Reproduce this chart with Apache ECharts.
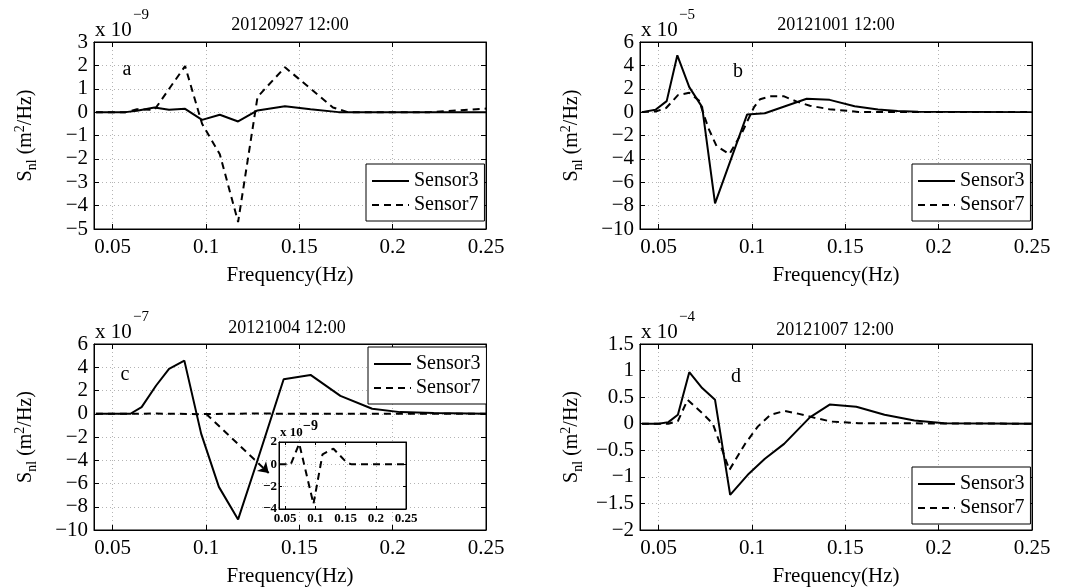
<!DOCTYPE html>
<html>
<head>
<meta charset="utf-8">
<script src="https://cdn.jsdelivr.net/npm/echarts@6/dist/echarts.min.js"></script>
<style>
html, body { margin: 0; padding: 0; background: #fff; }
#main { width: 1089px; height: 588px; }
</style>
</head>
<body>
<div id="main"></div>
<script>
var FONT = "'Liberation Serif', 'Times New Roman', serif";

var xTicks = [0.05, 0.1, 0.15, 0.2, 0.25];
var seriesNames = ['Sensor3', 'Sensor7'];
var panelTitles = ['20120927 12:00', '20121001 12:00', '20121004 12:00', '20121007 12:00'];
var panelLetters = ['a', 'b', 'c', 'd'];
var panelExponents = ['\u22129', '\u22125', '\u22127', '\u22124'];

// a: 20120927, units 1e-9
var freqA3 = [0.041, 0.057, 0.063, 0.0724, 0.0802, 0.0888, 0.0979, 0.1074, 0.1172, 0.1276, 0.1423, 0.156, 0.171, 0.25];
var snlA3  = [0, 0, 0.06, 0.2, 0.1, 0.14, -0.33, -0.11, -0.4, 0.07, 0.25, 0.12, 0, 0];
var freqA7 = [0.041, 0.057, 0.063, 0.0724, 0.0888, 0.0979, 0.1074, 0.1172, 0.1276, 0.1423, 0.168, 0.176, 0.22, 0.25];
var snlA7  = [0, 0, 0.12, 0.1, 1.97, -0.5, -1.8, -4.7, 0.65, 1.92, 0.2, 0, 0, 0.15];

// b: 20121001, units 1e-5
var freqB3 = [0.041, 0.0483, 0.0543, 0.060, 0.0664, 0.0733, 0.0802, 0.0974, 0.1069, 0.1293, 0.1416, 0.155, 0.1675, 0.178, 0.189, 0.25];
var snlB3  = [0, 0.2, 0.94, 4.86, 2.14, 0.43, -7.8, -0.2, -0.1, 1.14, 1.05, 0.51, 0.23, 0.1, 0.03, 0];
var freqB7 = [0.041, 0.0483, 0.054, 0.0603, 0.0664, 0.0716, 0.0767, 0.081, 0.0879, 0.0948, 0.101, 0.1043, 0.11, 0.1172, 0.124, 0.131, 0.1414, 0.157, 0.25];
var snlB7  = [0, 0.05, 0.35, 1.45, 1.65, 1.0, -1.4, -2.9, -3.6, -1.7, 0.4, 1.1, 1.35, 1.35, 0.9, 0.55, 0.25, 0.02, 0];

// c: 20121004, Sensor3 in 1e-7, Sensor7 in 1e-9
var freqC3 = [0.041, 0.0595, 0.0655, 0.0733, 0.0802, 0.0884, 0.0974, 0.1069, 0.1172, 0.127, 0.1416, 0.156, 0.172, 0.189, 0.204, 0.222, 0.25];
var snlC3  = [0, 0, 0.57, 2.43, 3.86, 4.57, -1.71, -6.29, -9.09, -4.3, 2.97, 3.34, 1.54, 0.43, 0.14, 0.06, 0];
var freqC7 = [0.041, 0.0594, 0.0735, 0.097, 0.112, 0.13, 0.152, 0.16, 0.25];
var snlC7  = [0, 0, 1.85, -3.55, 0.9, 1.4, 0.15, 0, 0];

// d: 20121007, units 1e-4
var freqD3 = [0.041, 0.05, 0.0552, 0.0603, 0.0664, 0.0733, 0.0802, 0.0883, 0.0983, 0.1069, 0.1172, 0.131, 0.1416, 0.1559, 0.171, 0.187, 0.203, 0.25];
var snlD3  = [0, 0, 0.03, 0.17, 0.97, 0.67, 0.45, -1.34, -0.94, -0.66, -0.38, 0.12, 0.36, 0.32, 0.17, 0.06, 0.01, 0];
var freqD7 = [0.041, 0.0552, 0.0603, 0.0655, 0.0733, 0.079, 0.0879, 0.0961, 0.1032, 0.110, 0.1175, 0.1246, 0.1336, 0.1425, 0.157, 0.25];
var snlD7  = [0, 0, 0.05, 0.45, 0.2, 0.0, -0.87, -0.39, -0.05, 0.17, 0.24, 0.19, 0.11, 0.04, 0.01, 0];

// arrow in panel c pointing at the inset (data coords of panel c)
var arrowFrom = [0.1, 0];
var arrowTo = [0.1336, -5.1];

var grids = [
    {left: 94, top: 42, width: 392, height: 187},
    {left: 640, top: 42, width: 392, height: 187},
    {left: 94, top: 344, width: 392, height: 187},
    {left: 640, top: 344, width: 392, height: 187},
    {left: 279, top: 442, width: 127, height: 67}
];
var yRanges = [[-5, 3, 1], [-10, 6, 2], [-10, 6, 2], [-2, 1.5, 0.5], [-4, 2, 2]];

function pairs(fx, fy, scale) {
    return fx.map(function (x, i) { return [x, fy[i] * scale]; });
}

function minus(v) {
    return String(+(+v).toFixed(4)).replace('-', '\u2212');
}

var dotted = {show: true, lineStyle: {color: '#b4b4b4', width: 1, type: [1, 3]}};

var xAxis = [], yAxis = [];
grids.forEach(function (g, i) {
    var inset = i === 4;
    var fs = inset ? 13 : 21;
    var z = inset ? 10 : 0;
    var label = {
        show: true, customValues: xTicks, color: '#000', fontFamily: FONT, fontSize: fs,
        fontWeight: inset ? 'bold' : 'normal', margin: inset ? 3 : 8,
        formatter: function (v) { return minus(v); }
    };
    var tick = {show: true, inside: true, length: inset ? 3 : 5, customValues: xTicks, lineStyle: {color: '#000'}};
    xAxis.push({
        type: 'value', gridIndex: i, min: 0.04, max: 0.25, position: 'bottom', z: z,
        axisLine: {show: true, onZero: false, lineStyle: {color: '#000', width: 1}},
        axisTick: tick, axisLabel: label, splitLine: dotted,
        name: inset ? '' : 'Frequency(Hz)', nameLocation: 'middle', nameGap: 36,
        nameTextStyle: {fontFamily: FONT, fontSize: 21, color: '#000'}
    });
    xAxis.push({
        type: 'value', gridIndex: i, min: 0.04, max: 0.25, position: 'top', z: z,
        axisLine: {show: true, onZero: false, lineStyle: {color: '#000', width: 1}},
        axisTick: tick, axisLabel: {show: false}, splitLine: {show: false}
    });
    var r = yRanges[i];
    yAxis.push({
        type: 'value', gridIndex: i, min: r[0], max: r[1], interval: r[2], position: 'left', z: z,
        axisLine: {show: true, onZero: false, lineStyle: {color: '#000', width: 1}},
        axisTick: {show: true, inside: true, length: inset ? 3 : 5, lineStyle: {color: '#000'}},
        axisLabel: {
            color: '#000', fontFamily: FONT, fontSize: fs, fontWeight: inset ? 'bold' : 'normal',
            margin: inset ? 2 : 6, formatter: function (v) { return minus(v); }
        },
        splitLine: dotted,
        name: inset ? '' : 'S{sub|nl} (m{sup|2}/Hz)', nameLocation: 'middle', nameGap: 55,
        nameTextStyle: {
            fontFamily: FONT, fontSize: 20, color: '#000',
            rich: {
                sub: {fontFamily: FONT, fontSize: 14, color: '#000', padding: [12, 0, 0, 0]},
                sup: {fontFamily: FONT, fontSize: 14, color: '#000', padding: [0, 0, 12, 0]}
            }
        }
    });
    yAxis.push({
        type: 'value', gridIndex: i, min: r[0], max: r[1], interval: r[2], position: 'right', z: z,
        axisLine: {show: true, onZero: false, lineStyle: {color: '#000', width: 1}},
        axisTick: {show: true, inside: true, length: inset ? 3 : 5, lineStyle: {color: '#000'}},
        axisLabel: {show: false}, splitLine: {show: false}
    });
});

var solid = {color: '#000', width: 2, type: 'solid'};
var dashed = {color: '#000', width: 2, type: [7, 5]};

function line(name, gi, data, style) {
    return {
        type: 'line', name: name, xAxisIndex: 2 * gi, yAxisIndex: 2 * gi,
        data: data, symbol: 'none', lineStyle: style, itemStyle: {color: '#000'},
        animation: false, z: gi === 4 ? 12 : 3
    };
}

var series = [
    line('Sensor3', 0, pairs(freqA3, snlA3, 1), solid),
    line('Sensor7', 0, pairs(freqA7, snlA7, 1), dashed),
    line('Sensor3', 1, pairs(freqB3, snlB3, 1), solid),
    line('Sensor7', 1, pairs(freqB7, snlB7, 1), dashed),
    line('Sensor3', 2, pairs(freqC3, snlC3, 1), solid),
    line('Sensor7', 2, pairs(freqC7, snlC7, 0.01), dashed),
    line('Sensor3', 3, pairs(freqD3, snlD3, 1), solid),
    line('Sensor7', 3, pairs(freqD7, snlD7, 1), dashed),
    line('inset', 4, pairs(freqC7, snlC7, 1), dashed)
];
series[5].markLine = {
    silent: true, symbol: ['none', 'arrow'], symbolSize: 10, label: {show: false},
    lineStyle: {color: '#000', width: 2, type: [7, 5]},
    data: [[{coord: arrowFrom}, {coord: arrowTo}]]
};

var legendPos = [[366, 164], [912, 164], [368, 347], [912, 467]];
var legend = legendPos.map(function (p) {
    return {
        orient: 'vertical', left: p[0], top: p[1], data: seriesNames,
        itemWidth: 37, itemHeight: 14, itemGap: 4, padding: [7, 6, 6, 5],
        itemStyle: {opacity: 0},
        borderColor: '#000', borderWidth: 1, backgroundColor: '#fff', selectedMode: false,
        textStyle: {fontFamily: FONT, fontSize: 20, color: '#000', lineHeight: 20}
    };
});

var graphic = [];
var titleXY = [[290, 25], [836, 25], [287, 328], [835, 330]];
var letterXY = [[127, 70], [738, 72], [125, 375], [736, 377]];
for (var i = 0; i < 4; i++) {
    var g = grids[i];
    graphic.push({type: 'text', x: titleXY[i][0], y: titleXY[i][1], style: {
        text: panelTitles[i], fontFamily: FONT, fontSize: 18, fill: '#000',
        align: 'center', verticalAlign: 'middle', textAlign: 'center', textVerticalAlign: 'middle'}});
    graphic.push({type: 'text', x: letterXY[i][0], y: letterXY[i][1], style: {
        text: panelLetters[i], fontFamily: FONT, fontSize: 20, fill: '#000',
        align: 'center', verticalAlign: 'middle', textAlign: 'center', textVerticalAlign: 'middle'}});
    graphic.push({type: 'text', x: g.left + 1, y: g.top - 12, style: {
        text: 'x 10', fontFamily: FONT, fontSize: 21, fill: '#000',
        align: 'left', verticalAlign: 'middle', textAlign: 'left', textVerticalAlign: 'middle'}});
    graphic.push({type: 'text', x: g.left + 39, y: g.top - 27, style: {
        text: panelExponents[i], fontFamily: FONT, fontSize: 15, fill: '#000',
        align: 'left', verticalAlign: 'middle', textAlign: 'left', textVerticalAlign: 'middle'}});
}
graphic.push({type: 'text', x: 280, y: 433, z: 20, style: {
    text: 'x 10', fontFamily: FONT, fontSize: 13, fontWeight: 'bold', fill: '#000',
    align: 'left', verticalAlign: 'middle', textAlign: 'left', textVerticalAlign: 'middle'}});
graphic.push({type: 'text', x: 303, y: 426, z: 20, style: {
    text: '\u22129', fontFamily: FONT, fontSize: 14, fontWeight: 'bold', fill: '#000',
    align: 'left', verticalAlign: 'middle', textAlign: 'left', textVerticalAlign: 'middle'}});

var chart = echarts.init(document.getElementById('main'));
chart.setOption({
    backgroundColor: '#fff',
    animation: false,
    grid: grids.map(function (g, i) {
        return {left: g.left, top: g.top, width: g.width, height: g.height,
            show: true, borderColor: '#000', borderWidth: 1, backgroundColor: '#fff', z: i === 4 ? 5 : 0};
    }),
    xAxis: xAxis,
    yAxis: yAxis,
    legend: legend,
    series: series,
    graphic: graphic
});
</script>
</body>
</html>
